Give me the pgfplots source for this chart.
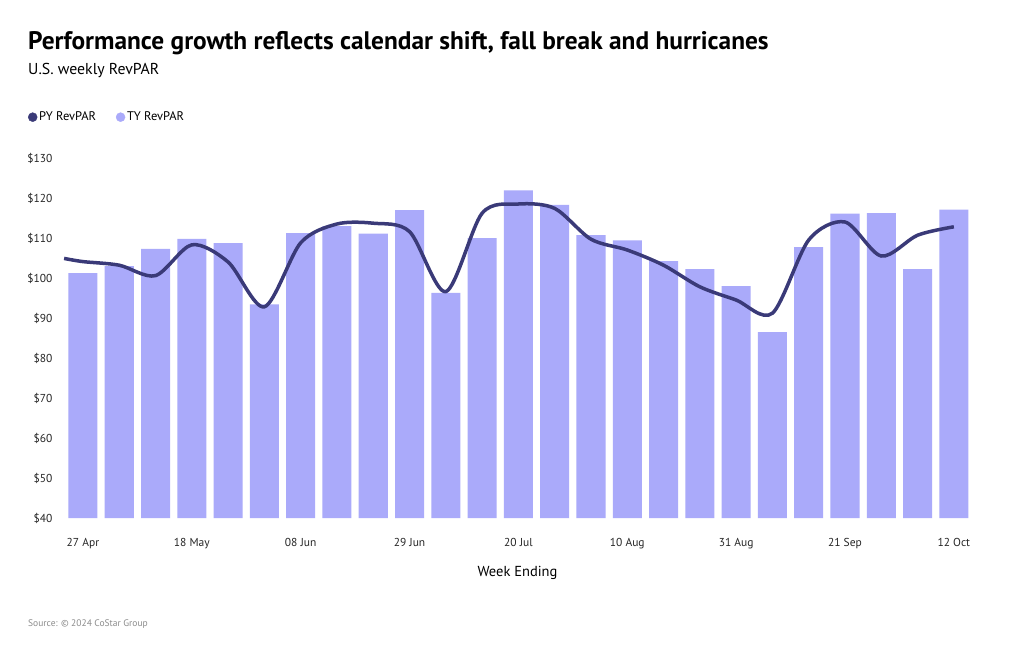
\documentclass[border=0pt]{standalone}
\usepackage{pgfplots}
\pgfplotsset{compat=1.18}
\usepackage{pgfplotstable}
\usepackage{fontspec}
\setmainfont{PT Sans}

\definecolor{tybar}{HTML}{AAAAFA}
\definecolor{pyline}{HTML}{3A3A78}

% week index, TY RevPAR (bars)
\pgfplotstableread{
idx ty
0  101.2
1  103.0
2  107.3
3  109.8
4  108.7
5  93.4
6  111.2
7  113.0
8  111.1
9  117.0
10 96.3
11 110.0
12 121.9
13 118.3
14 110.7
15 109.4
16 104.2
17 102.2
18 98.0
19 86.5
20 107.7
21 116.1
22 116.2
23 102.2
24 117.1
}\tydata

% PY RevPAR (line)
\pgfplotstableread{
idx py
-0.52 104.9
0  104.1
1  103.2
2  100.6
3  108.3
4  104.0
5  92.8
6  108.8
7  113.5
8  113.7
9  111.6
10 96.6
11 116.2
12 118.5
13 117.4
14 109.7
15 107.0
16 103.2
17 97.8
18 94.5
19 91.2
20 109.5
21 114.0
22 105.5
23 110.7
24 112.8
}\pydata

\begin{document}
\begin{tikzpicture}
\path[use as bounding box,fill=white] (0pt,0pt) rectangle (1020pt,-650pt);

\node[anchor=base west,inner sep=0] at (28pt,-50pt)
  {\fontsize{25.35}{30}\selectfont\bfseries Performance growth reflects calendar shift, fall break and hurricanes};
\node[anchor=base west,inner sep=0] at (28pt,-75pt)
  {\fontsize{15.8}{19}\selectfont U.S. weekly RevPAR};
\node[anchor=base west,inner sep=0,text=black!45] at (28pt,-626pt)
  {\fontsize{9.5}{11}\selectfont Source: \textcopyright{} 2024 CoStar Group};

\begin{axis}[
  at={(63pt,-518pt)}, anchor=south west,
  scale only axis,
  width=909pt, height=360pt,
  xmin=-0.55, xmax=24.5,
  ymin=40, ymax=130,
  axis line style={draw=none},
  tick style={draw=none},
  ytick={40,50,...,130},
  yticklabels={\$40,\$50,\$60,\$70,\$80,\$90,\$100,\$110,\$120,\$130},
  xtick={0,3,...,24},
  xticklabels={27 Apr,18 May,08 Jun,29 Jun,20 Jul,10 Aug,31 Aug,21 Sep,12 Oct},
  ticklabel style={font=\fontsize{11.5}{13}\selectfont, text=black!85},
  xticklabel style={yshift=-17pt},
  yticklabel style={xshift=-7pt},
  xlabel={Week Ending},
  xlabel style={font=\fontsize{14.5}{17}\selectfont, yshift=-10pt},
  legend columns=2,
  legend style={at={(-0.0385,1.134)}, anchor=north west, draw=none,
    fill=none, inner sep=0pt,
    font=\fontsize{12.5}{14}\selectfont,
    /tikz/every even column/.append style={column sep=18pt}},
  legend cell align=left,
]
\addplot[ybar, bar width=0.8, bar shift=0pt, fill=tybar, draw=none, forget plot]
  table[x=idx, y=ty] {\tydata};
\addplot[pyline, line width=3.5pt, smooth, tension=0.5, forget plot]
  table[x=idx, y=py] {\pydata};
\addlegendimage{only marks, mark=*, mark size=4.5pt, color=pyline}
\addlegendentry{PY RevPAR}
\addlegendimage{only marks, mark=*, mark size=4.5pt, color=tybar}
\addlegendentry{TY RevPAR}
\end{axis}
\end{tikzpicture}
\end{document}
